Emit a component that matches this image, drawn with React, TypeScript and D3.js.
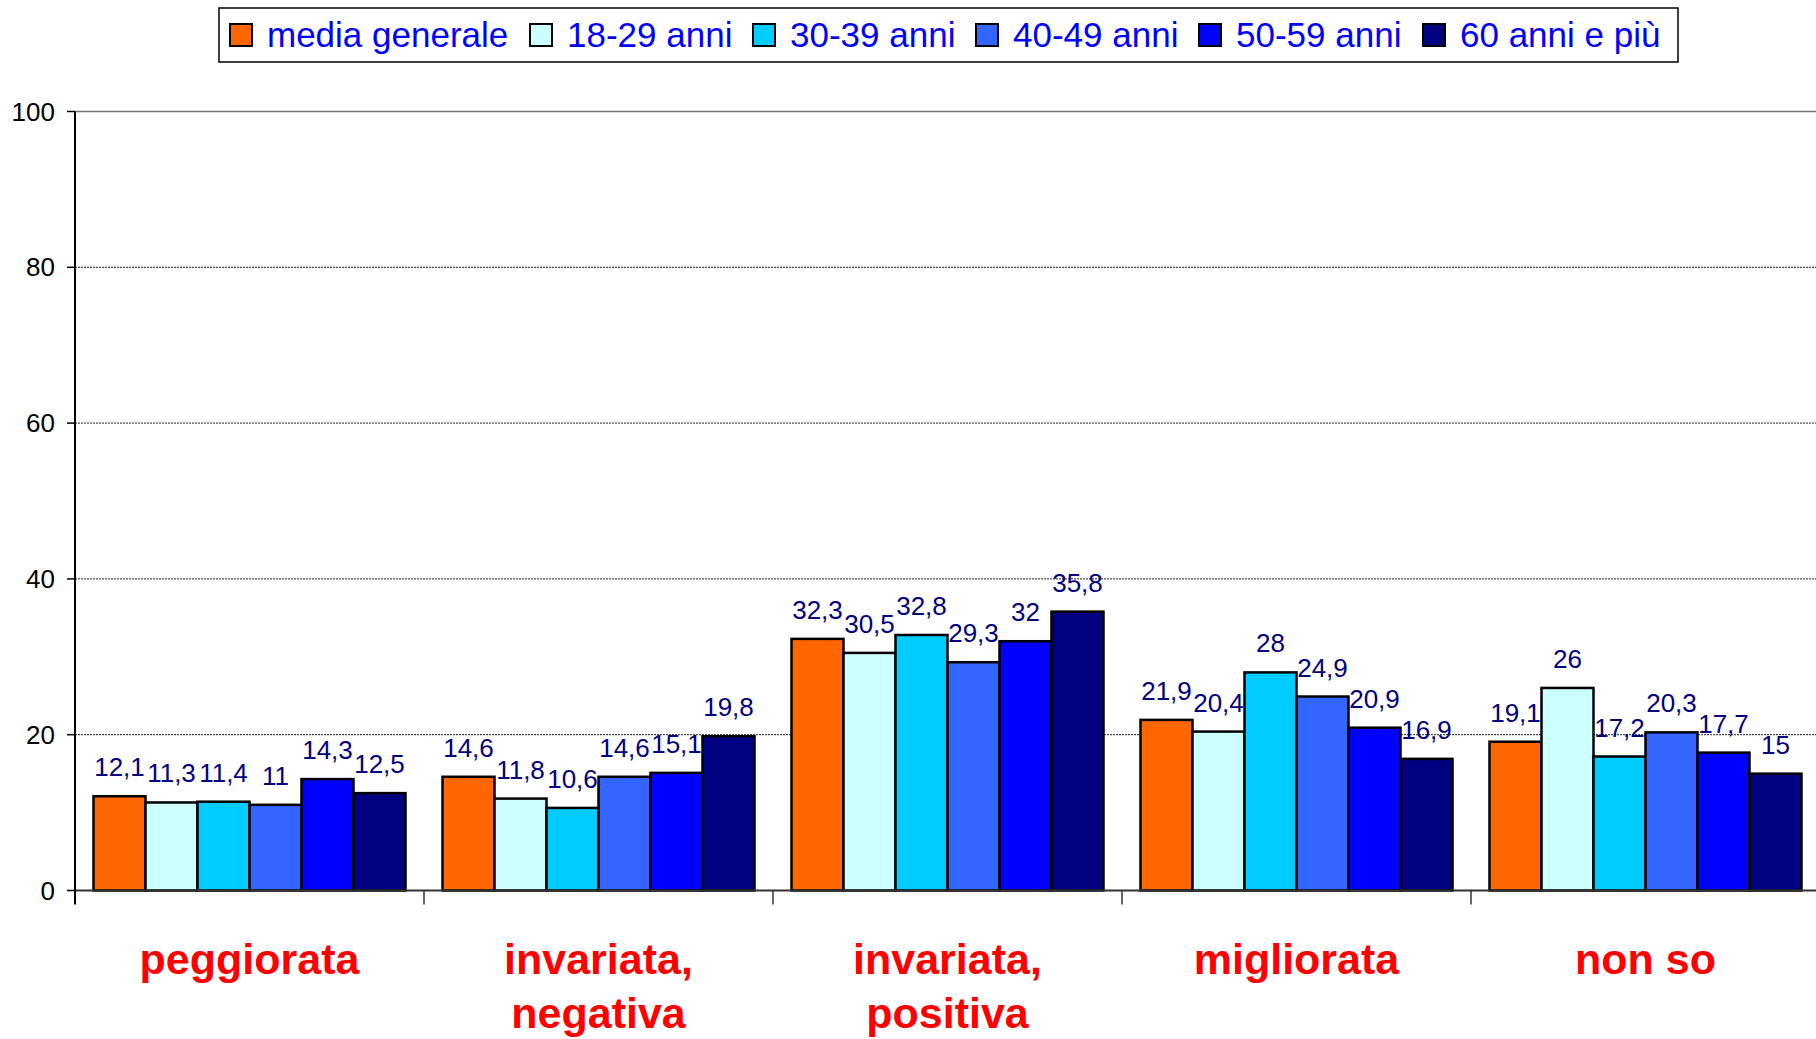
import React from 'react';
import * as d3 from 'd3';

const categories = [['peggiorata'], ['invariata,', 'negativa'], ['invariata,', 'positiva'], ['migliorata'], ['non so']];
const seriesNames = ['media generale', '18-29 anni', '30-39 anni', '40-49 anni', '50-59 anni', '60 anni e più'];
const seriesColors = ['#FF6600', '#CCFFFF', '#00CCFF', '#3366FF', '#0000FF', '#000080'];
// values by category, one per series
const peggiorata = [12.1, 11.3, 11.4, 11, 14.3, 12.5];
const invariataNegativa = [14.6, 11.8, 10.6, 14.6, 15.1, 19.8];
const invariataPositiva = [32.3, 30.5, 32.8, 29.3, 32, 35.8];
const migliorata = [21.9, 20.4, 28, 24.9, 20.9, 16.9];
const nonSo = [19.1, 26, 17.2, 20.3, 17.7, 15];
const yTicks = [0, 20, 40, 60, 80, 100];
const legendX = [230, 530, 753, 976, 1199, 1423];

const values = [peggiorata, invariataNegativa, invariataPositiva, migliorata, nonSo];

const W = 1816, H = 1039;
const FONT = '"Liberation Sans", Arial, sans-serif';

export default function App() {
  const catKeys = categories.map((_, i) => String(i));
  const x0 = d3.scaleBand().domain(catKeys).range([75, 1820]);
  const bw = x0.bandwidth();
  const x1 = d3.scaleBand().domain(seriesNames).range([18.5, bw - 18.5]);
  const y = d3.scaleLinear().domain([0, 100]).range([890.5, 111.5]);
  const fmt = (v: number) => String(v).replace('.', ',');

  return (
    <svg width={W} height={H} style={{ position: 'absolute', left: 0, top: 0, background: '#fff' }} fontFamily={FONT}>
      {/* gridlines */}
      {yTicks.filter(t => t > 0 && t < 100).map(t => (
        <line key={t} x1={75} x2={W} y1={y(t)} y2={y(t)} stroke="#222" strokeWidth={1} strokeDasharray="2,1" />
      ))}
      <line x1={75} x2={W} y1={y(100)} y2={y(100)} stroke="#777" strokeWidth={1.5} />
      {/* bars */}
      {values.map((vals, ci) => (
        <g key={ci} transform={`translate(${x0(String(ci))},0)`}>
          {vals.map((v, si) => (
            <rect key={si} x={x1(seriesNames[si])} y={y(v)} width={x1.bandwidth()} height={y(0) - y(v)}
              fill={seriesColors[si]} stroke="#000" strokeWidth={2.5} />
          ))}
          {vals.map((v, si) => (
            <text key={'l' + si} x={(x1(seriesNames[si]) as number) + x1.bandwidth() / 2} y={y(v) - 20}
              textAnchor="middle" fontSize={26} fill="#000080">{fmt(v)}</text>
          ))}
        </g>
      ))}
      {/* axes */}
      <line x1={75} x2={W} y1={y(0)} y2={y(0)} stroke="#333" strokeWidth={2} />
      <line x1={75} x2={75} y1={y(100)} y2={y(0) + 14} stroke="#000" strokeWidth={2} />
      {yTicks.map(t => (
        <g key={t}>
          <line x1={67} x2={75} y1={y(t)} y2={y(t)} stroke="#000" strokeWidth={1.5} />
          <text x={55} y={y(t)} dy="0.35em" textAnchor="end" fontSize={26} fill="#000">{t}</text>
        </g>
      ))}
      {catKeys.slice(1).map(k => (
        <line key={k} x1={x0(k)} x2={x0(k)} y1={y(0)} y2={y(0) + 14} stroke="#333" strokeWidth={1.5} />
      ))}
      {categories.map((lines, ci) => (
        <text key={ci} x={(x0(String(ci)) as number) + bw / 2} y={974} textAnchor="middle"
          fontSize={43} fontWeight="bold" fill="#FF0000">
          {lines.map((ln, li) => (
            <tspan key={li} x={(x0(String(ci)) as number) + bw / 2} y={974 + li * 54}>{ln}</tspan>
          ))}
        </text>
      ))}
      {/* legend */}
      <rect x={219} y={8} width={1459} height={54} fill="#fff" stroke="#000" strokeWidth={1.5} />
      {seriesNames.map((s, i) => (
        <g key={s}>
          <rect x={legendX[i]} y={24} width={22} height={22} fill={seriesColors[i]} stroke="#000" strokeWidth={2} />
          <text x={legendX[i] + 37} y={47} fontSize={35} fill="#0000FF">{s}</text>
        </g>
      ))}
    </svg>
  );
}
